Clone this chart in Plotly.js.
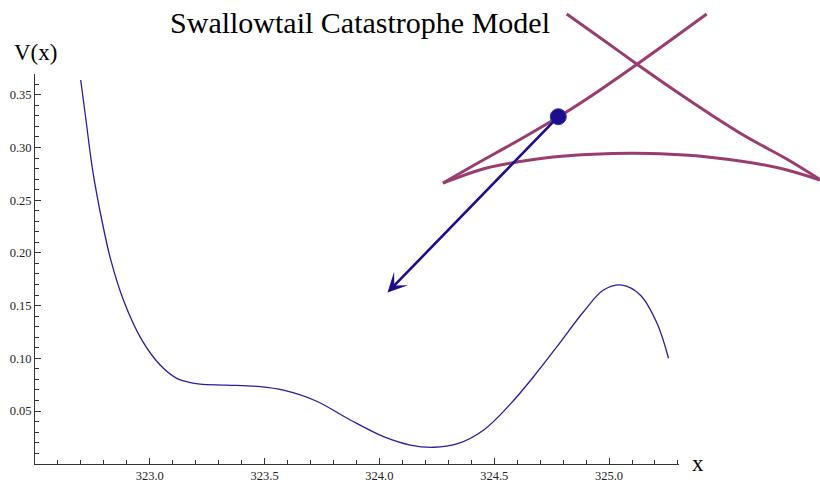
<!DOCTYPE html>
<html>
<head>
<meta charset="utf-8">
<script src="https://cdn.plot.ly/plotly-3.0.1.min.js"></script>
<style>html,body{margin:0;padding:0;background:#fff;}#chart{width:820px;height:482px;}</style>
</head>
<body>
<div id="chart"></div>
<script>
// ---- Potential curve V(x) ----
var potX = [322.699, 322.722, 322.751, 322.791, 322.830, 322.885, 322.965, 323.045, 323.117, 323.168,
            323.219, 323.335, 323.480, 323.582, 323.724, 323.873, 324.018, 324.134, 324.236,
            324.337, 324.453, 324.570, 324.671, 324.773, 324.889, 324.976, 325.056, 325.136, 325.209, 325.259];
var potV = [0.3640, 0.3261, 0.2786, 0.2312, 0.1933, 0.1553, 0.1174, 0.0936, 0.0810, 0.0774,
            0.0755, 0.0746, 0.0731, 0.0697, 0.0595, 0.0415, 0.0256, 0.0177, 0.0156,
            0.0187, 0.0318, 0.0565, 0.0825, 0.1110, 0.1442, 0.1648, 0.1695, 0.1601, 0.1332, 0.1000];

// ---- Swallowtail bifurcation-set inset (in inset screen units) ----
var arcU  = [443, 486.7, 520, 553, 593, 633, 670, 703, 753, 787, 820];
var arcV  = [183, 168, 161.5, 157, 154.2, 153.3, 154.3, 156.5, 163, 170, 180];
var leftU = [443, 470, 496.7, 520, 558.3, 586.7, 636.7, 706.7];
var leftV = [183, 167.5, 152.5, 139.5, 117, 99, 64.5, 14];
var rightU = [566.7, 603.3, 636.7, 673.3, 710, 746.7, 786.7, 820];
var rightV = [14, 40, 64, 89.5, 114, 137, 159, 179.5];
var dotU = [558.3], dotV = [116.7];
var arrowTail = [558.3, 116.7];
var arrowHead = [387.5, 292.5];

// ---- ticks ----
var xTickVals = [323.0, 323.5, 324.0, 324.5, 325.0];
var yTickVals = [0.05, 0.10, 0.15, 0.20, 0.25, 0.30, 0.35];
var xMinor = [], yMinor = [];
for (var i = 1; i <= 28; i++) xMinor.push(+(322.5 + i * 0.1).toFixed(2));
for (var j = 1; j <= 37; j++) yMinor.push(+(j * 0.01).toFixed(2));

var serif = "'Liberation Serif', 'Times New Roman', 'DejaVu Serif', serif";
var purple = '#993d71';
var navy = '#1d0e8e';

var traces = [
  {x: potX, y: potV, xaxis: 'x', yaxis: 'y', mode: 'lines', type: 'scatter',
   line: {color: '#2a1c9c', width: 1.3, shape: 'spline', smoothing: 1}},
  {x: arcU, y: arcV, xaxis: 'x2', yaxis: 'y2', mode: 'lines', type: 'scatter',
   line: {color: purple, width: 3, shape: 'spline', smoothing: 1}},
  {x: leftU, y: leftV, xaxis: 'x2', yaxis: 'y2', mode: 'lines', type: 'scatter',
   line: {color: purple, width: 3, shape: 'spline', smoothing: 1}},
  {x: rightU, y: rightV, xaxis: 'x2', yaxis: 'y2', mode: 'lines', type: 'scatter',
   line: {color: purple, width: 3, shape: 'spline', smoothing: 1}},
  {x: dotU, y: dotV, xaxis: 'x2', yaxis: 'y2', mode: 'markers', type: 'scatter',
   marker: {color: navy, size: 16, line: {color: '#3b2fa6', width: 1}}}
];

var axisCommon = {
  showgrid: false, zeroline: false, showline: true, linecolor: '#333', linewidth: 1,
  ticks: 'inside', tickcolor: '#333', tickwidth: 1, ticklen: 6,
  tickfont: {family: serif, size: 12.5, color: '#222'}, tickmode: 'array'
};

var layout = {
  width: 820, height: 482,
  margin: {l: 0, r: 0, t: 0, b: 0, pad: 0},
  paper_bgcolor: '#ffffff', plot_bgcolor: 'rgba(0,0,0,0)',
  showlegend: false,
  title: {text: 'Swallowtail Catastrophe Model', font: {family: serif, size: 30, color: '#000'},
          x: 360 / 820, xanchor: 'center', xref: 'paper', y: 1 - 22 / 482, yanchor: 'middle', yref: 'container'},
  xaxis: Object.assign({}, axisCommon, {
    domain: [35 / 820, 679.3 / 820], range: [322.5, 325.306], anchor: 'y',
    tickvals: xTickVals, ticktext: xTickVals.map(function (v) { return v.toFixed(1); }),
    minor: {tickmode: 'array', tickvals: xMinor, ticks: 'inside', ticklen: 3.5, tickcolor: '#333', tickwidth: 1}
  }),
  yaxis: Object.assign({}, axisCommon, {
    domain: [(482 - 463.7) / 482, (482 - 73.7) / 482], range: [0, 0.37], anchor: 'x',
    tickvals: yTickVals, ticktext: yTickVals.map(function (v) { return v.toFixed(2); }),
    minor: {tickmode: 'array', tickvals: yMinor, ticks: 'inside', ticklen: 3.5, tickcolor: '#333', tickwidth: 1}
  }),
  xaxis2: {domain: [0, 1], range: [0, 820], anchor: 'y2', visible: false, fixedrange: true},
  yaxis2: {domain: [0, 1], range: [482, 0], anchor: 'x2', visible: false, fixedrange: true},
  annotations: [
    {xref: 'x2', yref: 'y2', axref: 'x2', ayref: 'y2', x: arrowHead[0], y: arrowHead[1],
     ax: arrowTail[0], ay: arrowTail[1], text: '', showarrow: true, arrowhead: 3, arrowsize: 1.25,
     arrowwidth: 2.6, arrowcolor: navy, standoff: 0, startstandoff: 0},
    {xref: 'paper', yref: 'paper', x: 35 / 820, y: 1 - 52 / 482, text: 'V(x)', showarrow: false,
     xanchor: 'center', yanchor: 'middle', font: {family: serif, size: 23, color: '#000'}},
    {xref: 'paper', yref: 'paper', x: 698 / 820, y: 1 - 463 / 482, text: 'x', showarrow: false,
     xanchor: 'center', yanchor: 'middle', font: {family: serif, size: 23, color: '#000'}}
  ]
};

Plotly.newPlot('chart', traces, layout, {staticPlot: true, displayModeBar: false});
</script>
</body>
</html>
